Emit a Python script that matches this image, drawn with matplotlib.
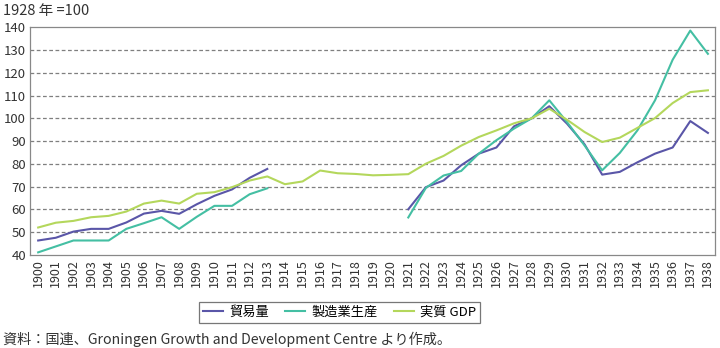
import numpy as np
import matplotlib.pyplot as plt

plt.rcParams['font.family'] = ['Noto Sans CJK JP', 'DejaVu Sans']

years = list(range(1900, 1939))

# 1914-1920 have no trade / manufacturing figures
trade = [46.4, 47.6, 50.3, 51.5, 51.5, 54.3, 58.2, 59.4, 58.1, 62.3,
         66.0, 68.8, 73.9, 77.8, None, None, None, None, None, None,
         None, 60.1, 69.8, 72.7, 79.4, 84.5, 87.2, 96.5, 100.0, 105.3,
         97.7, 88.6, 75.3, 76.5, 80.7, 84.5, 87.2, 98.8, 93.6]
manufacturing = [41.2, 43.8, 46.4, 46.4, 46.4, 51.5, 54.0, 56.6, 51.5, 56.8,
                 61.6, 61.6, 66.7, 69.3, None, None, None, None, None, None,
                 None, 56.5, 69.5, 74.9, 76.9, 84.5, 90.4, 95.5, 100.0, 107.9,
                 98.4, 88.1, 77.2, 84.8, 94.7, 107.9, 125.7, 138.5, 128.3]
real_gdp = [52.1, 54.2, 55.0, 56.6, 57.2, 59.1, 62.6, 63.9, 62.6, 66.9,
            67.6, 69.8, 72.7, 74.5, 71.1, 72.3, 77.1, 75.9, 75.6, 75.0,
            75.2, 75.5, 80.1, 83.5, 88.0, 91.8, 94.7, 97.8, 100.0, 104.2,
            99.4, 94.0, 89.6, 91.5, 95.8, 100.1, 106.7, 111.5, 112.3]

series = [
    ('貿易量', trade, '#5a56a8'),
    ('製造業生産', manufacturing, '#44bfa3'),
    ('実質 GDP', real_gdp, '#b4d75c'),
]

fig = plt.figure(figsize=(7.2, 3.48), dpi=100)
ax = fig.add_axes([0.042, 0.267, 0.951, 0.655])

for label, values, color in series:
    y = np.array([np.nan if v is None else v for v in values], dtype=float)
    ax.plot(years, y, color=color, linewidth=1.5, label=label)

ax.set_xlim(1899.55, 1938.4)
ax.set_ylim(40, 140)
ax.set_yticks(range(40, 141, 10))
ax.set_xticks(years)
ax.set_xticklabels([str(y) for y in years], rotation=90, fontsize=9, color='#333333')
ax.tick_params(axis='y', labelsize=9.5, colors='#333333', length=0, pad=3)
ax.tick_params(axis='x', length=0, pad=3)

for v in range(50, 140, 10):
    ax.axhline(v, color='#7f7f7f', linestyle=(0, (3, 2)), linewidth=0.9, zorder=0)

for side in ax.spines.values():
    side.set_color('#888888')
    side.set_linewidth(0.9)

fig.text(0.004, 0.968, '1928 年 =100', fontsize=10.5, color='#333333', va='center')

handles, labels = ax.get_legend_handles_labels()
leg = fig.legend(handles, labels, loc='center', bbox_to_anchor=(0.472, 0.103), ncol=3,
                 fontsize=9.5, frameon=True, fancybox=False, handlelength=1.5,
                 handletextpad=0.5, columnspacing=1.2, borderpad=0.3)
leg.get_frame().set_edgecolor('#555555')
leg.get_frame().set_linewidth(0.9)

fig.text(0.004, 0.025, '資料：国連、Groningen Growth and Development Centre より作成。',
         fontsize=10.2, color='#333333', va='center')

fig.savefig('out.png', dpi=100)
